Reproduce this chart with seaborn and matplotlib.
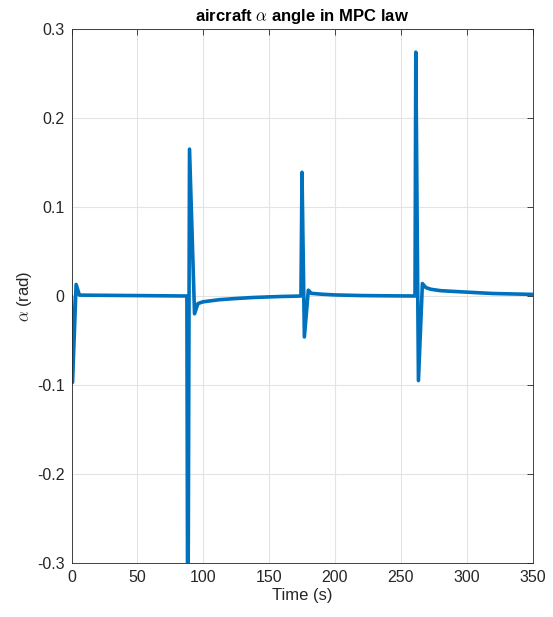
"""
Aircraft alpha angle under MPC law - MATLAB-style line plot
"""

import numpy as np
import pandas as pd
import seaborn as sns
import matplotlib
matplotlib.use('Agg')
import matplotlib.pyplot as plt

# Data

TimeS = [0, 0.8, 3.5, 6, 87.6,
         88.3, 89.6, 93.4, 96, 100, 112, 125, 137.6, 150, 160, 170,
         174.2, 175, 176.8, 179.8, 182, 190, 200, 220, 240,
         260.8, 261.4, 263.4, 266.4, 269, 272.7, 280, 295.5, 320, 335, 350]
AlphaRad = [0.0, -0.097, 0.013, 0.001, 0.0,
            -0.45, 0.165, -0.020, -0.0085, -0.0065, -0.0042, -0.0028, -0.0017, -0.001, -0.0005, -0.0002,
            0.0, 0.139, -0.046, 0.0065, 0.003, 0.002, 0.0012, 0.0005, 0.0002,
            0.0, 0.274, -0.095, 0.014, 0.0095, 0.0076, 0.006, 0.0047, 0.0028, 0.0023, 0.0018]

XTicks = [0, 50, 100, 150, 200, 250, 300, 350]
YTicks = [-0.3, -0.2, -0.1, 0, 0.1, 0.2, 0.3]
YTickLabels = ['-0.3', '-0.2', '-0.1', '0', '0.1', '0.2', '0.3']

df = pd.DataFrame({'Time': TimeS, 'Alpha': AlphaRad})

# Style

sns.set_style('white')
plt.rcParams['font.family'] = ['Liberation Sans', 'DejaVu Sans']
plt.rcParams['mathtext.fontset'] = 'cm'
plt.rcParams['axes.unicode_minus'] = False

Dark = '#262626'

fig = plt.figure(figsize=(5.53, 6.17), dpi=100)
ax = fig.add_axes([71.5 / 553, 54 / 617, 461 / 553, 534 / 617])

sns.lineplot(data=df, x='Time', y='Alpha', estimator=None, sort=False,
             color='#0072BD', linewidth=2.6, ax=ax,
             solid_joinstyle='round', solid_capstyle='round')

ax.set_xlim(0, 350)
ax.set_ylim(-0.3, 0.3)
ax.set_xticks(XTicks)
ax.set_xticklabels([str(x) for x in XTicks])
ax.set_yticks(YTicks)
ax.set_yticklabels(YTickLabels)

ax.grid(True, color='#e3e3e3', linewidth=0.8)
ax.set_axisbelow(True)
for s in ax.spines.values():
    s.set_color(Dark)
    s.set_linewidth(0.6)
    s.set_visible(True)

ax.tick_params(direction='in', length=4, width=0.6, colors=Dark,
               labelsize=11.5, top=True, right=True, pad=5)

ax.set_xlabel('Time (s)', fontsize=12, color=Dark, labelpad=2)
ax.set_ylabel(r'$\alpha$ (rad)', fontsize=12, color=Dark, labelpad=2)
ax.set_title(r'aircraft $\alpha$ angle in MPC law', fontsize=12,
             fontweight='bold', color='black', pad=6)

plt.savefig('out.png', dpi=100)
